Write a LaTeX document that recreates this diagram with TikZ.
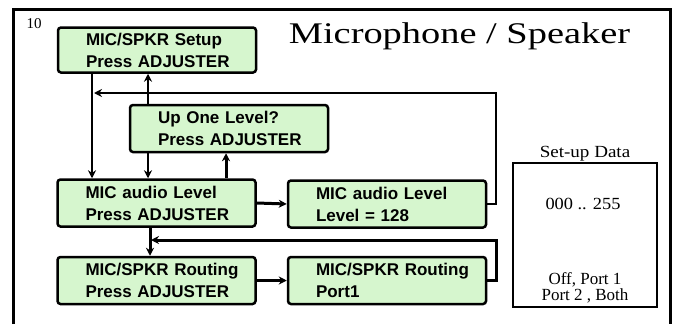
\documentclass[tikz,border=0pt]{standalone}
\usepackage{fontspec}
\setmainfont{Liberation Serif}
\setsansfont{Liberation Sans}
\usetikzlibrary{arrows.meta}
\definecolor{menugreen}{RGB}{214,246,206}
\tikzset{
  menubox/.style={draw, line width=2.5pt, rounded corners=3pt, fill=menugreen,
    text width=142pt, inner xsep=28pt, minimum height=47pt, align=left,
    font=\sffamily\bfseries\fontsize{17}{22}\selectfont},
  link/.style={line width=2.4pt, -{Stealth[length=8pt,width=8pt]}},
  thicklink/.style={link, line width=3pt}
}
\begin{document}
\begin{tikzpicture}[x=1pt,y=-1pt]
	\useasboundingbox (0,0) rectangle (676,324);
	\draw[line width=3pt] (13,324) -- (13,9) -- (670,9) -- (670,324);
	\node[anchor=base] (num) at (34,28) {\fontsize{15}{17}\selectfont 10};
	\node[anchor=base] (title) at (459.5,43) {\scalebox{1.28}[1]{\fontsize{30}{36}\selectfont Microphone / Speaker}};
	% menu boxes
	\node[menubox, minimum height=45pt] (setup) at (157,50) {\mbox{MIC/SPKR Setup}\\\mbox{Press ADJUSTER}};
	\node[menubox] (upone) at (229,128.5) {\mbox{Up One Level?}\\\mbox{Press ADJUSTER}};
	\node[menubox] (level) at (156.5,203) {\mbox{MIC audio Level}\\\mbox{Press ADJUSTER}};
	\node[menubox] (levelval) at (387,204) {\mbox{MIC audio Level}\\\mbox{Level = 128}};
	\node[menubox] (route) at (156.5,280.5) {\mbox{MIC/SPKR Routing}\\\mbox{Press ADJUSTER}};
	\node[menubox] (routeval) at (387,280.5) {\mbox{MIC/SPKR Routing}\\\mbox{Port1}};
	% set-up data
	\node[draw, line width=1.3pt, minimum width=144pt, minimum height=144pt] (data) at (585,235) {};
	\node[anchor=base] (datahead) at (585,157) {\scalebox{1.12}[1]{\fontsize{17}{20}\selectfont Set-up Data}};
	\node[anchor=base] (levelrange) at (583,209) {\scalebox{1.08}[1]{\fontsize{17}{20}\selectfont 000 .. 255}};
	\node[align=center, font=\fontsize{17}{16}\selectfont] (routerange) at (585,288) {Off, Port 1\\Port 2 , Both};
	% columns for the connectors
	\coordinate (colA) at (92,0);
	\coordinate (colB) at (148,0);
	\coordinate (colC) at (226,0);
	\coordinate (colD) at (150,0);
	\coordinate (colR) at (496,0);
	\coordinate (upjoin) at (94,93);
	\coordinate (downjoin) at (151,240);
	\draw[link] (setup.south -| colA) -- (level.north -| colA);
	\draw[link] (levelval.east) -- (levelval.east -| colR) |- (upjoin);
	\draw[link, line width=2.6pt] (upone.north -| colB) -- (setup.south -| colB);
	\draw[link, line width=2.6pt] (upone.south -| colB) -- (level.north -| colB);
	\draw[thicklink] (level.north -| colC) -- (upone.south -| colC);
	\draw[thicklink] (level.east) -- (levelval.west);
	\draw[thicklink] (level.south -| colD) -- (route.north -| colD);
	\draw[thicklink] (routeval.east) -- (routeval.east -| colR) |- (downjoin);
	\draw[thicklink] (route.east) -- (routeval.west);
\end{tikzpicture}
\end{document}
